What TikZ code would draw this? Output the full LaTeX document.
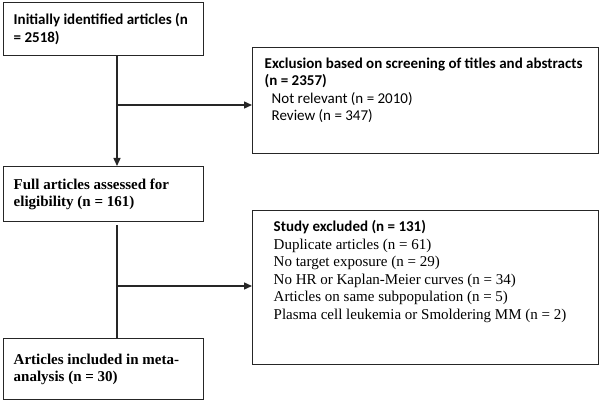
\documentclass[tikz,border=0pt]{standalone}
\usepackage{fontspec}
\setmainfont{Liberation Serif}
\newfontfamily\calfont{Carlito}
\usetikzlibrary{arrows.meta}
\tikzset{
  box/.style={draw=black!85, line width=1.4pt, anchor=north west, inner ysep=0pt, inner xsep=0pt},
  conn/.style={draw=black!85, line width=1.4pt},
  arr/.style={conn, -{Triangle[length=8pt,width=7pt]}},
  txt/.style={font=\fontsize{15}{17.5}\selectfont}
}
\begin{document}
\begin{tikzpicture}[x=1pt,y=-1pt]
\useasboundingbox (0,0) rectangle (600,401);
\node[box, txt, minimum width=200, minimum height=53] (b1) at (3,2)
  {\parbox[c][53pt][c]{180pt}{\calfont\bfseries Initially identified articles (n\\ = 2518)}};
\node[box, txt, minimum width=346, minimum height=106] (b2) at (252,47)
  {\parbox[c][106pt][t]{322pt}{\vspace{10pt}\calfont\bfseries Exclusion based on screening of titles and abstracts\\(n = 2357)\\
   \mdseries\hspace*{7pt}Not relevant (n = 2010)\\\hspace*{7pt}Review (n = 347)}};
\node[box, txt, minimum width=200, minimum height=55] (b3) at (3,166)
  {\parbox[c][55pt][c]{180pt}{\bfseries Full articles assessed for\\eligibility (n = 161)}};
\node[box, txt, minimum width=346, minimum height=154] (b4) at (252,210)
  {\parbox[c][154pt][t]{320pt}{\vspace{10pt}\hspace*{8pt}\calfont\bfseries Study excluded (n = 131)\\
   \rmfamily\mdseries\hspace*{8pt}Duplicate articles (n = 61)\\
   \hspace*{8pt}No target exposure (n = 29)\\
   \hspace*{8pt}No HR or Kaplan-Meier curves (n = 34)\\
   \hspace*{8pt}Articles on same subpopulation (n = 5)\\
   \hspace*{8pt}Plasma cell leukemia or Smoldering MM (n = 2)}};
\node[box, txt, minimum width=200, minimum height=61] (b5) at (3,338)
  {\parbox[c][61pt][c]{180pt}{\bfseries Articles included in meta-\\analysis (n = 30)}};
\coordinate (v1) at (117,105);
\coordinate (v2) at (117,286);
\coordinate (s2) at (117,225);
\draw[arr] (b1.south -| v1) -- (b3.north -| v1);
\draw[arr] (v1) -- (v1 -| b2.west);
\draw[conn] (s2) -- (b5.north -| s2);
\draw[arr] (v2) -- (v2 -| b4.west);
\end{tikzpicture}
\end{document}
